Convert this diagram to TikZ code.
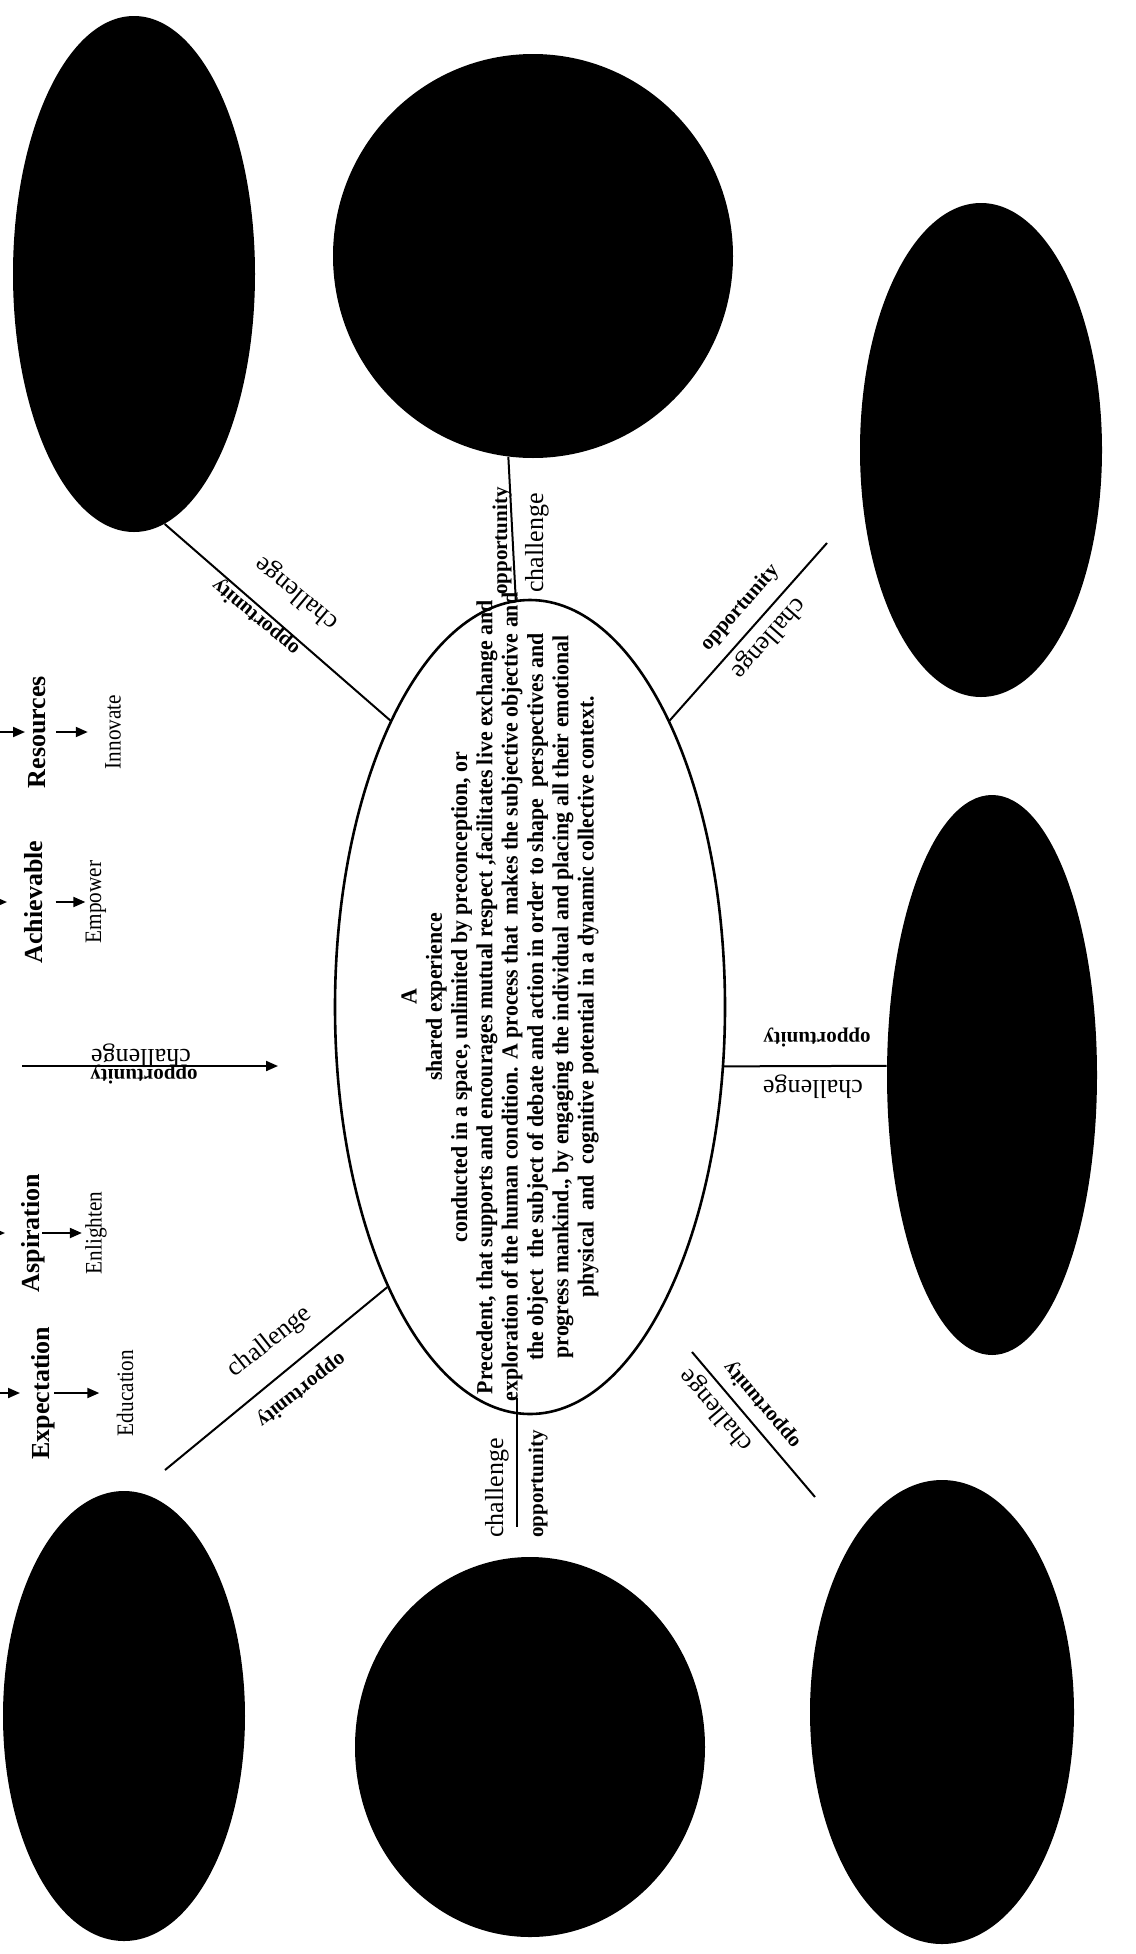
\documentclass[tikz,border=0pt]{standalone}
\usepackage{fontspec}
\setmainfont{Liberation Serif}
\newfontfamily\narrowserif[FakeStretch=0.9]{Liberation Serif}
\newfontfamily\coreserif[FakeStretch=0.95]{Liberation Serif}
\usepackage{tikz}
\usetikzlibrary{shapes.geometric}
\usetikzlibrary{arrows.meta}
\tikzstyle{blob}=[ellipse, fill=black, inner sep=0pt]
\tikzstyle{core}=[ellipse, draw, line width=1.3pt, inner sep=0pt]
\tikzstyle{spoke}=[line width=1pt]
\tikzstyle{arrow}=[-{Triangle[length=6pt,width=5pt]}, line width=1pt]
\tikzstyle{oppo}=[inner sep=0pt, font=\bfseries\fontsize{10.5}{12}\selectfont]
\tikzstyle{chal}=[inner sep=0pt, font=\fontsize{13}{14}\selectfont]
\tikzstyle{headword}=[rotate=90, inner sep=0pt, font=\bfseries\fontsize{13}{14}\selectfont]
\tikzstyle{subword}=[rotate=90, inner sep=0pt, font=\narrowserif\fontsize{11.8}{13}\selectfont]
\tikzstyle{creed}=[rotate=90, inner sep=0pt, align=center, font=\coreserif\bfseries\fontsize{11.5}{12.65}\selectfont]

\begin{document}
\begin{tikzpicture}[x=0.5pt, y=-0.5pt]
      \useasboundingbox (0,0) rectangle (1135,1954);

      \node[core, minimum width=195pt, minimum height=407pt] (core) at (530,1007) {};
      \node[blob, minimum width=121pt, minimum height=258pt] (topLeftBlob) at (134,274) {};
      \node[blob, minimum width=200pt, minimum height=202pt] (topBlob) at (533,256) {};
      \node[blob, minimum width=121pt, minimum height=247pt] (topRightBlob) at (981,450) {};
      \node[blob, minimum width=105pt, minimum height=280pt] (rightBlob) at (992,1075) {};
      \node[blob, minimum width=132pt, minimum height=232pt] (bottomRightBlob) at (942,1712) {};
      \node[blob, minimum width=175pt, minimum height=190pt] (bottomBlob) at (530,1747) {};
      \node[blob, minimum width=121pt, minimum height=225pt] (bottomLeftBlob) at (124,1716) {};

      \node[creed] (creed) at (500,997) {A\\
        shared experience\\
        conducted in a space, unlimited by preconception, or\\
        Precedent, that supports and encourages mutual respect ,facilitates live exchange and\\
        exploration of the human condition. A process that\ \ makes the subjective objective and\\
        the object\ \ the subject of debate and action in order to shape\ \ perspectives and\\
        progress mankind., by engaging the individual and placing all their emotional\\
        physical\ \ and\ \ cognitive potential in a dynamic collective context.};

      \node[headword] (resources) at (37,732) {Resources};
      \node[subword] (innovate) at (113,732) {Innovate};
      \node[headword] (achievable) at (34,902) {Achievable};
      \node[subword] (empower) at (96,902) {Empower};
      \node[headword] (aspiration) at (33,1233) {Aspiration};
      \node[subword] (enlighten) at (96,1233) {Enlighten};
      \node[headword] (expectation) at (43,1393) {Expectation};
      \node[subword] (education) at (125,1393) {Education};

      \coordinate (edgeR) at (-40,732);
      \coordinate (edgeRtip) at (25,732);
      \coordinate (edgeA) at (-40,902);
      \coordinate (edgeAtip) at (7,902);
      \coordinate (edgeS) at (-40,1233);
      \coordinate (edgeStip) at (5,1233);
      \coordinate (edgeE) at (-40,1393);
      \coordinate (edgeEtip) at (20,1393);
      \coordinate (flowStart) at (22,1066);
      \coordinate (flowEnd) at (278,1066);
      \coordinate (neEnd) at (827,543);
      \coordinate (seStart) at (692,1352);
      \coordinate (seEnd) at (815,1497);
      \coordinate (sStart) at (517,1398);
      \coordinate (sEnd) at (517,1527);
      \coordinate (swEnd) at (165,1470);

      \foreach \a/\b in {edgeR/edgeRtip, edgeA/edgeAtip, edgeS/edgeStip, edgeE/edgeEtip, flowStart/flowEnd}{
        \draw[arrow] (\a) -- (\b);
      }
      \draw[arrow, shorten <=5pt, shorten >=8.5pt] (resources) -- (innovate);
      \draw[arrow, shorten <=6pt] (achievable) -- (empower);
      \draw[arrow, shorten <=-1.5pt, shorten >=1.5pt] (aspiration) -- (enlighten);
      \draw[arrow, shorten <=-0.5pt, shorten >=8.5pt] (expectation) -- (education);

      \draw[spoke] (core.116) -- (topLeftBlob.-83);
      \draw[spoke] (topBlob.-97) -- (core.92);
      \draw[spoke] (core.64) -- (neEnd);
      \draw[spoke] (core.-17) -- (rightBlob.175);
      \draw[spoke] (seStart) -- (seEnd);
      \draw[spoke] (sStart) -- (sEnd);
      \draw[spoke] (core.-117) -- (swEnd);

      % labels along the spokes
      \node[chal, rotate=140] (chalNW) at (297,593) {challenge};
      \node[oppo, rotate=140] (oppoNW) at (256,617) {opportunity};
      \node[oppo, rotate=90] (oppoN) at (502,541) {opportunity};
      \node[chal, rotate=90] (chalN) at (537,543) {challenge};
      \node[oppo, rotate=48.7] (oppoNE) at (740,608) {opportunity};
      \node[chal, rotate=228.7] (chalNE) at (768,638) {challenge};
      \node[oppo, rotate=180] (oppoE) at (817,1038) {opportunity};
      \node[chal, rotate=180] (chalE) at (813,1087) {challenge};
      \node[oppo, rotate=130.3] (oppoSE) at (762,1405) {opportunity};
      \node[chal, rotate=130.3] (chalSE) at (717,1410) {challenge};
      \node[chal, rotate=90] (chalS) at (497,1488) {challenge};
      \node[oppo, rotate=90] (oppoS) at (538,1484) {opportunity};
      \node[chal, rotate=38.3] (chalSW) at (270,1342) {challenge};
      \node[oppo, rotate=218.3] (oppoSW) at (301,1390) {opportunity};
      \node[chal, rotate=180] (chalFlow) at (141,1056) {challenge};
      \node[oppo, rotate=180] (oppoFlow) at (144,1075) {opportunity};

\end{tikzpicture}
\end{document}
